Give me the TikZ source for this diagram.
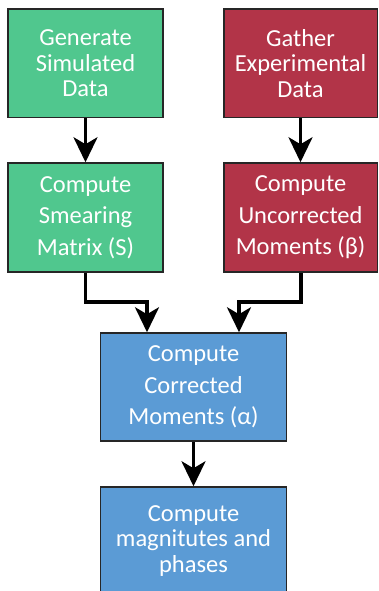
\documentclass[tikz,border=0pt]{standalone}
\usepackage{fontspec}
\setmainfont{Carlito}
\usetikzlibrary{arrows.meta}
\definecolor{boxgreen}{HTML}{50C78E}
\definecolor{boxred}{HTML}{B23448}
\definecolor{boxblue}{HTML}{5B9BD5}
\begin{document}
\begin{tikzpicture}[x=1pt,y=-1pt,
  box/.style={draw=black!85, line width=1.5pt, text=white, align=center,
    inner sep=0pt, anchor=center},
  tight/.style={font=\fontsize{24.5}{25.5}\selectfont},
  loose/.style={font=\fontsize{24.5}{31.5}\selectfont},
  flow/.style={line width=3.3pt, black, -{Stealth[length=25pt,width=24pt,inset=7pt]}}
]
\useasboundingbox (0,0) rectangle (378,591);
\node[box, tight, fill=boxgreen, minimum width=155pt, minimum height=108.5pt] (gen) at (85.5,63.5)
  {Generate\\Simulated\\Data};
\node[box, tight, fill=boxred, minimum width=153.5pt, minimum height=108.5pt] (gat) at (300.5,63.5)
  {Gather\\Experimental\\Data};
\node[box, loose, fill=boxgreen, minimum width=155pt, minimum height=109pt] (sme) at (85.5,217.5)
  {Compute\\Smearing\\Matrix (S)};
\node[box, loose, fill=boxred, minimum width=153.5pt, minimum height=109pt] (unc) at (300.5,217.5)
  {Compute\\Uncorrected\\Moments (β)};
\node[box, loose, fill=boxblue, minimum width=186pt, minimum height=108pt] (cor) at (193.5,387)
  {Compute\\Corrected\\Moments (α)};
\node[box, tight, fill=boxblue, minimum width=186pt, minimum height=108pt] (mag) at (193.5,541)
  {Compute\\magnitutes and\\phases};
\coordinate (jl) at (147,302);
\coordinate (jr) at (239,302);
\draw[flow] (gen.south) -- (sme.north);
\draw[flow] (gat.south) -- (unc.north);
\draw[flow] (sme.south) |- (jl) -- (jl |- cor.north);
\draw[flow] ([xshift=0.5pt]unc.south) |- (jr) -- (jr |- cor.north);
\draw[flow] (cor.south) -- (mag.north);
\end{tikzpicture}
\end{document}
